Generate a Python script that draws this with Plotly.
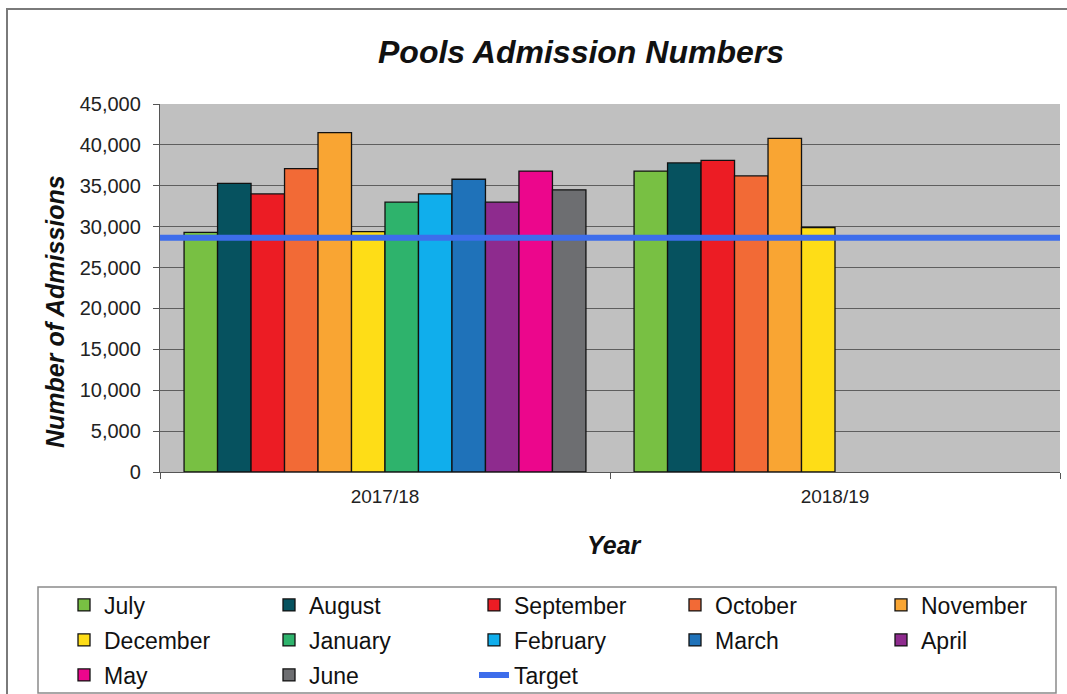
import plotly.graph_objects as go

# Financial years on the category axis
years = ["2017/18", "2018/19"]

# Months in the order they appear in each financial year
months = ["July", "August", "September", "October", "November", "December",
          "January", "February", "March", "April", "May", "June"]

# Monthly admissions, one value per month
admissions_2017_18 = [29300, 35300, 34000, 37100, 41500, 29400,
                      33000, 34000, 35800, 33000, 36800, 34500]
admissions_2018_19 = [36800, 37800, 38100, 36200, 40800, 29900,
                      None, None, None, None, None, None]

# Monthly admissions target
target_admissions = 28650

month_colors = ["#78C043", "#06525F", "#EC1C24", "#F26A36", "#F9A533", "#FEDD17",
                "#2EB36C", "#10AEEC", "#1F72B9", "#8E2B8E", "#EC068C", "#6D6E71"]
target_color = "#3D6DEB"

FONT = "Liberation Sans, Arial, sans-serif"

# Figure and plot area geometry (pixels) used to place elements outside it
FW, FH = 1067, 694
L, R, T, B = 160, 1060, 104, 472
W, H = R - L, B - T


def px(xp):
    return (xp - L) / W


def py(yp):
    return (B - yp) / H


def cx(xp):
    return xp / FW


def cy(yp):
    return 1 - yp / FH


# Legend grid: five columns, three rows; each entry gets its own legend box
LEGEND_COLS = 5
legend_col_x = [64, 269, 474, 675, 881]
legend_row_y = [605, 640, 675]


def legend_id(k):
    return "legend" if k == 0 else f"legend{k + 1}"


fig = go.Figure()

for i, month in enumerate(months):
    fig.add_trace(go.Bar(
        x=years,
        y=[admissions_2017_18[i], admissions_2018_19[i]],
        name=month,
        marker=dict(color=month_colors[i], line=dict(color="#111111", width=1.3)),
        legend=legend_id(i),
    ))

# Target line across the full width of the plot area
fig.add_trace(go.Scatter(
    x=[0, 1],
    y=[target_admissions, target_admissions],
    xaxis="x2",
    mode="lines",
    name="Target",
    line=dict(color=target_color, width=6),
    legend=legend_id(len(months)),
))

legend_layouts = {}
for k in range(len(months) + 1):
    row, col = divmod(k, LEGEND_COLS)
    legend_layouts[legend_id(k)] = dict(
        orientation="h",
        xanchor="left",
        yanchor="middle",
        xref="container",
        yref="container",
        x=cx(legend_col_x[col]),
        y=cy(legend_row_y[row]),
        bgcolor="rgba(0,0,0,0)",
        borderwidth=0,
        font=dict(family=FONT, size=23, color="#111111"),
        itemclick=False,
        itemdoubleclick=False,
    )

fig.update_layout(
    width=FW,
    height=FH,
    margin=dict(l=L, r=FW - R, t=T, b=FH - B, autoexpand=False),
    paper_bgcolor="white",
    plot_bgcolor="#C0C0C0",
    barmode="group",
    bargap=0.107,
    bargroupgap=0,
    font=dict(family=FONT, color="#222222"),
    title=dict(
        text="Pools Admission Numbers",
        font=dict(family=FONT, size=32, color="#111111", weight="bold", style="italic"),
        x=px(581), xanchor="center",
        y=cy(52), yanchor="middle", xref="paper", yref="container",
    ),
    xaxis=dict(
        type="category",
        tickson="boundaries",
        ticks="outside",
        ticklen=6,
        tickcolor="#555555",
        showline=True,
        linecolor="#555555",
        linewidth=1.3,
        showgrid=False,
        ticklabelstandoff=7,
        tickfont=dict(family=FONT, size=19, color="#222222"),
        fixedrange=True,
    ),
    xaxis2=dict(
        overlaying="x",
        range=[0, 1],
        visible=False,
        anchor="y",
        fixedrange=True,
    ),
    yaxis=dict(
        range=[0, 45000],
        dtick=5000,
        tickformat=",",
        ticks="outside",
        ticklen=6,
        tickcolor="#555555",
        showline=True,
        linecolor="#555555",
        linewidth=1.3,
        gridcolor="#5E5E5E",
        gridwidth=1.3,
        zeroline=False,
        ticklabelstandoff=8,
        tickfont=dict(family=FONT, size=20, color="#222222"),
        fixedrange=True,
    ),
    showlegend=True,
    **legend_layouts,
)

# Axis titles
axis_title_font = dict(family=FONT, size=25, color="#111111", weight="bold", style="italic")
fig.add_annotation(
    text="Number of Admissions", textangle=-90,
    xref="paper", yref="paper", x=px(55), y=py(312),
    xanchor="center", yanchor="middle", showarrow=False, font=axis_title_font,
)
fig.add_annotation(
    text="Year",
    xref="paper", yref="paper", x=px(614), y=py(545),
    xanchor="center", yanchor="middle", showarrow=False, font=axis_title_font,
)

# Chart frame and legend box
fig.add_shape(type="rect", xref="paper", yref="paper",
              x0=px(7), x1=px(1090), y0=py(720), y1=py(9),
              line=dict(color="#7A7A7A", width=2), fillcolor="rgba(0,0,0,0)", layer="below")
fig.add_shape(type="rect", xref="paper", yref="paper",
              x0=px(38), x1=px(1056), y0=py(693), y1=py(587),
              line=dict(color="#8A8A8A", width=1.5), fillcolor="rgba(0,0,0,0)", layer="below")

fig.write_html("out.html", config={"displayModeBar": False})
